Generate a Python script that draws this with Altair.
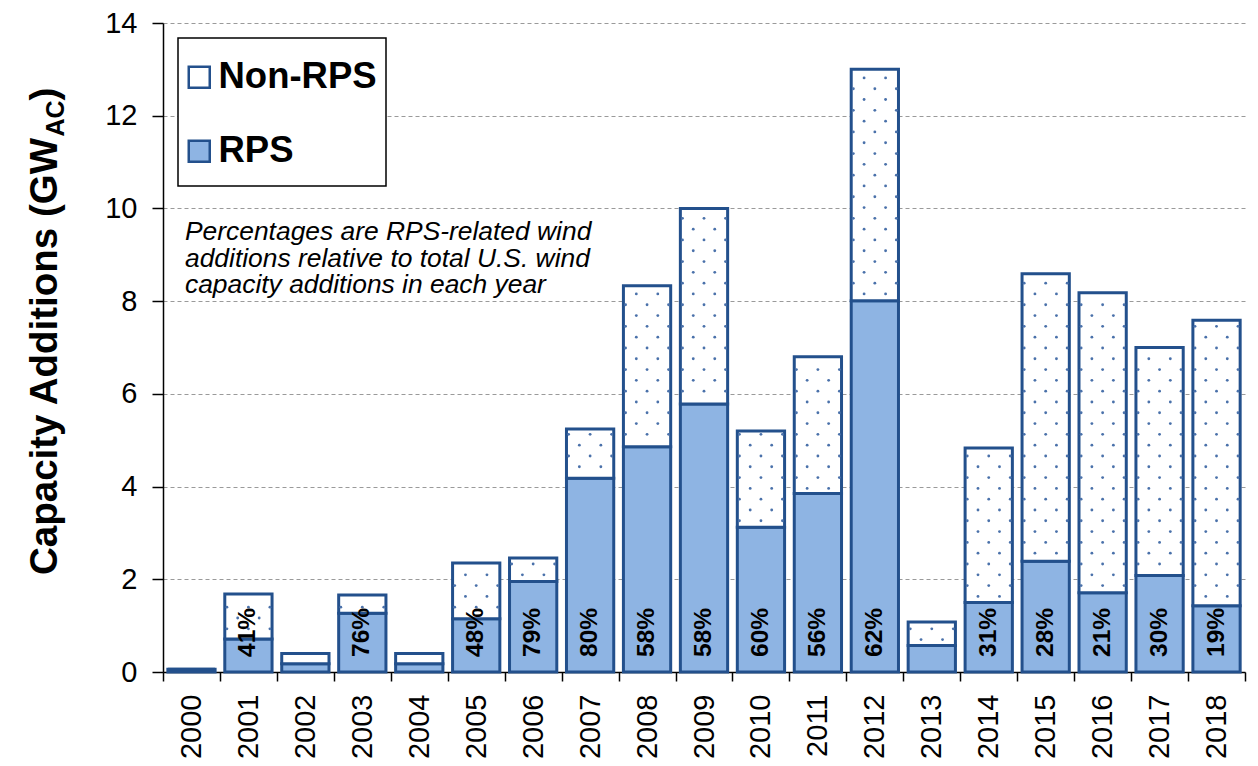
import altair as alt
import pandas as pd

# ---------------- data ----------------
years = [str(y) for y in range(2000, 2019)]
rps = [0.06, 0.71, 0.18, 1.27, 0.18, 1.15, 1.95, 4.18, 4.86, 5.78, 3.12, 3.85, 8.01, 0.57, 1.50, 2.39, 1.71, 2.08, 1.43]
non_rps = [0.00, 0.97, 0.22, 0.39, 0.22, 1.20, 0.51, 1.06, 3.47, 4.22, 2.08, 2.95, 4.99, 0.51, 3.33, 6.20, 6.47, 4.92, 6.16]
pct_labels = ["", "41%", "", "76%", "", "48%", "79%", "80%", "58%", "58%", "60%", "56%",
              "62%", "", "31%", "28%", "21%", "30%", "19%"]
series_names = ["Non-RPS", "RPS"]
y_ticks = [0, 2, 4, 6, 8, 10, 12, 14]
note_lines = ["Percentages are RPS-related wind",
              "additions relative to total U.S. wind",
              "capacity additions in each year"]
y_title_main = "Capacity Additions (GW"
y_title_sub = "AC"
y_title_end = ")"

# ---------------- styling ----------------
W, H = 1082, 649
DARK = "#23508C"
LIGHT = "#8EB4E3"
DOT = "#4A71AA"
FONT = "Liberation Sans"

rows = []
for yr, r, n in zip(years, rps, non_rps):
    rows.append(dict(year=yr, series="RPS", y0=0.0, y1=r))
    rows.append(dict(year=yr, series="Non-RPS", y0=r, y1=r + n))
seg = pd.DataFrame(rows)

# dotted texture for the Non-RPS segments (decoration only)
STEP = 0.233
MARGIN = 0.07
dots = []
for yr, r, n in zip(years, rps, non_rps):
    top = r + n
    k = int(r / STEP) + 1
    while k * STEP < top - MARGIN:
        yk = k * STEP
        if yk > r + MARGIN:
            for c in ([0, 2, 4] if k % 2 == 0 else [1, 3]):
                dots.append(dict(year=yr, col=c, y=yk))
        k += 1
dots_df = pd.DataFrame(dots)
COL_OFFSETS = [-21.5, -10.75, 0, 10.75, 21.5]

pct_df = pd.DataFrame({"year": years, "label": pct_labels})
one = pd.DataFrame({"a": [0]})

x_enc = alt.X("year:N", scale=alt.Scale(domain=years, paddingInner=0, paddingOuter=0),
              axis=alt.Axis(title=None, labelAngle=270, labelFontSize=29, labelPadding=13,
                            labelFont=FONT, labelColor="black", tickBand="extent",
                            tickSize=9, tickWidth=1.5, tickColor="black",
                            domainColor="black", domainWidth=1.5, grid=False))
y_scale = alt.Scale(domain=[0, 14], nice=False)

bars = alt.Chart(seg).mark_bar(width=alt.RelativeBandSize(0.83), stroke=DARK, strokeWidth=3).encode(
    x=x_enc,
    y=alt.Y("y1:Q", scale=y_scale,
            axis=alt.Axis(values=y_ticks, title=None, grid=True, gridDash=[4, 3],
                          gridColor="#9a9a9a", gridWidth=1, labelFontSize=29, labelPadding=15,
                          labelFont=FONT, labelColor="black", tickSize=11, tickWidth=1.5,
                          tickColor="black", domainColor="black", domainWidth=1.5)),
    y2="y0:Q",
    color=alt.Color("series:N", scale=alt.Scale(domain=series_names, range=["white", LIGHT]),
                    legend=alt.Legend(orient="none", legendX=18, legendY=36, title=None,
                                      symbolType="square", symbolSize=441,
                                      symbolStrokeColor=DARK, symbolStrokeWidth=2.5,
                                      labelFontSize=36.5, labelFontWeight="bold", labelFont=FONT,
                                      labelColor="black", labelOffset=1, labelLimit=400,
                                      rowPadding=37, padding=0)),
)

dot_layers = [
    alt.Chart(dots_df).transform_filter(alt.datum.col == c)
    .mark_circle(size=8, color=DOT, opacity=1, xOffset=off)
    .encode(x=alt.X("year:N"), y=alt.Y("y:Q", scale=y_scale))
    for c, off in enumerate(COL_OFFSETS)
]

pct = alt.Chart(pct_df).mark_text(angle=270, align="left", baseline="middle", fontSize=24.5,
                                  fontWeight="bold", font=FONT, color="black").encode(
    x=alt.X("year:N"), y=alt.value(H - 15), text="label:N")

legend_box = alt.Chart(one).mark_rect(fill="white", stroke="black", strokeWidth=1.5).encode(
    x=alt.value(15), x2=alt.value(223), y=alt.value(15), y2=alt.value(163))

legend_dot = alt.Chart(one).mark_circle(size=8, color=DOT, opacity=1).encode(
    x=alt.value(31), y=alt.value(52))

note = alt.Chart(one).mark_text(text=note_lines, fontSize=26.4, fontStyle="italic", font=FONT,
                                align="left", baseline="alphabetic", lineHeight=26.6,
                                color="black").encode(x=alt.value(22), y=alt.value(217))

TF, SF = 38.5, 25
XB, YS = -106, 552
L1 = 11.39 * TF
L2 = 1.444 * SF
t_main = alt.Chart(one).mark_text(text=y_title_main, fontSize=TF, fontWeight="bold", font=FONT,
                                  angle=270, align="left", baseline="alphabetic",
                                  color="black").encode(x=alt.value(XB), y=alt.value(YS))
t_sub = alt.Chart(one).mark_text(text=y_title_sub, fontSize=SF, fontWeight="bold", font=FONT,
                                 angle=270, align="left", baseline="alphabetic",
                                 color="black").encode(x=alt.value(XB + 7), y=alt.value(YS - L1))
t_end = alt.Chart(one).mark_text(text=y_title_end, fontSize=TF, fontWeight="bold", font=FONT,
                                 angle=270, align="left", baseline="alphabetic",
                                 color="black").encode(x=alt.value(XB), y=alt.value(YS - L1 - L2))

chart = alt.layer(bars, *dot_layers, pct, legend_box, legend_dot, note, t_main, t_sub, t_end).properties(
    width=W, height=H,
    autosize=alt.AutoSizeParams(type="none"),
    padding={"left": 155, "top": 15, "right": 5, "bottom": 92},
    background="white",
).configure_view(stroke=None)

chart.save("out.html", embed_options={"renderer": "svg", "actions": False})
